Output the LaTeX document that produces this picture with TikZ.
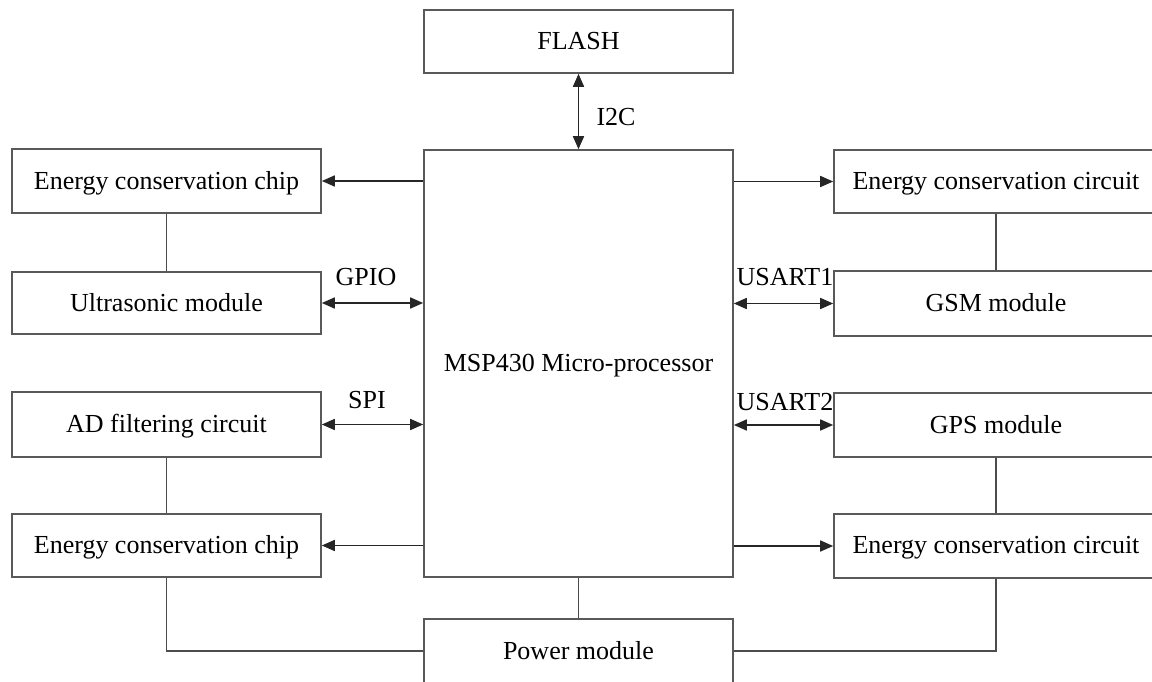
\documentclass[tikz,border=0pt]{standalone}
\usepackage{fontspec}
\setmainfont{Liberation Serif}
\usetikzlibrary{arrows.meta}
\begin{document}
\begin{tikzpicture}[x=1pt,y=-1pt,
  box/.style={draw=black!65, line width=1.6pt, inner sep=0pt, minimum width=309pt, font=\fontsize{26}{30}\selectfont, text depth=2pt},
  rbox/.style={box, minimum width=324pt},
  conn/.style={draw=black!70, line width=1.6pt},
  arr/.style={conn, -{Triangle[length=13pt,width=11pt]}, black!85},
  darr/.style={conn, {Triangle[length=13pt,width=11pt]}-{Triangle[length=13pt,width=11pt]}, black!85},
  lab/.style={font=\fontsize{26}{30}\selectfont, inner sep=0pt}]
\useasboundingbox (0,0) rectangle (1152,682);
\clip (0,0) rectangle (1152,682);
% boxes
\node[box, minimum height=63pt] (flash) at (578.5,41.5) {FLASH};
\node[box, minimum height=427pt] (msp) at (578.5,363.5) {MSP430 Micro-processor};
\node[box, minimum height=64pt] (ec1) at (166.5,181) {Energy conservation chip};
\node[box, minimum height=62pt] (us) at (166.5,303) {Ultrasonic module};
\node[box, minimum height=65pt] (ad) at (166.5,424.5) {AD filtering circuit};
\node[box, minimum height=63pt] (ec2) at (166.5,545.5) {Energy conservation chip};
\node[rbox, minimum height=63pt] (rc1) at (996,181.5) {Energy conservation circuit};
\node[rbox, minimum height=65pt] (gsm) at (996,303.5) {GSM module};
\node[rbox, minimum height=64pt] (gps) at (996,425) {GPS module};
\node[rbox, minimum height=64pt] (rc2) at (996,546) {Energy conservation circuit};
\node[box, minimum height=64pt] (pw) at (578.5,651) {Power module};
% connectors
\draw[darr] (flash) -- (msp);
\node[lab] (i2c) at (616,117) {I2C};
\draw[arr] (ec1.east -| msp.west) -- (ec1.east);
\draw[darr] (us.east) -- (us.east -| msp.west);
\draw[darr] (ad.east) -- (ad.east -| msp.west);
\draw[arr] (ec2.east -| msp.west) -- (ec2.east);
\draw[arr] (rc1.west -| msp.east) -- (rc1.west);
\draw[darr] (gsm.west -| msp.east) -- (gsm.west);
\draw[darr] (gps.west -| msp.east) -- (gps.west);
\draw[arr] (rc2.west -| msp.east) -- (rc2.west);
\node[lab] (gpio) at (366,277) {GPIO};
\node[lab] (spi) at (367,400) {SPI};
\node[lab] (u1) at (785,277) {USART1};
\node[lab] (u2) at (785,402) {USART2};
\draw[conn] (ec1) -- (us);
\draw[conn] (ad) -- (ec2);
\draw[conn] (rc1) -- (gsm);
\draw[conn] (gps) -- (rc2);
\draw[conn] (msp) -- (pw);
\draw[conn] (ec2.south) |- (pw.west);
\draw[conn] (rc2.south) |- (pw.east);
\end{tikzpicture}
\end{document}
